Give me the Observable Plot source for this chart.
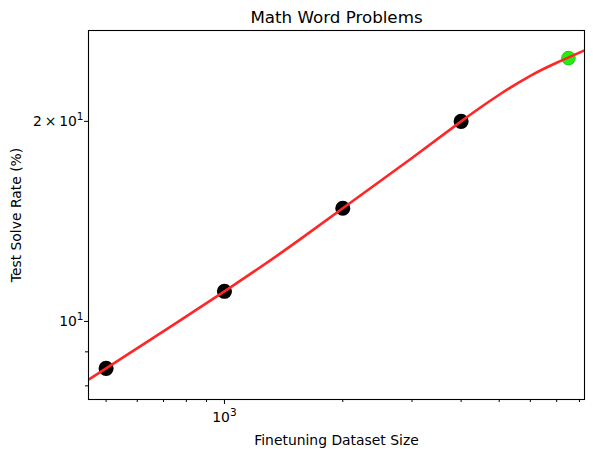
<!DOCTYPE html>
<html>
<head>
<meta charset="utf-8">
<script src="https://cdn.jsdelivr.net/npm/d3@7"></script>
<script src="https://cdn.jsdelivr.net/npm/@observablehq/plot@0.6"></script>
<style>
  html, body { margin: 0; padding: 0; background: #fff; }
  svg { font-family: "DejaVu Sans", sans-serif; }
</style>
</head>
<body>
<div id="chart"></div>
<script>
// Observed points (black)
const sizes = [500, 1000, 2000, 4000];
const rates = [8.5, 11.1, 14.8, 20.0];
// Highlighted point (green)
const highlightSize = [7500];
const highlightRate = [24.9];
// Fitted curve (red)
const fitSizes = [451, 500, 1000, 1500, 2000, 3000, 4000, 5000, 6000, 7000, 8240];
const fitRates = [8.18, 8.5, 11.1, 13.08, 14.8, 17.62, 20.0, 21.93, 23.42, 24.5, 25.57];
// Ticks
const xMajorTicks = [1000];
const xMajorLabels = [["10", "3"]];
const xMinorTicks = [500, 600, 700, 800, 900, 2000, 3000, 4000, 5000, 6000, 7000, 8000];
const yLabeledTicks = [10, 20];
const yLabeledLabels = [["10", "1"], ["2\u2009×\u200910", "1"]];
const yMinorTicks = [8, 9];

const points = sizes.map((s, i) => ({size: s, rate: rates[i]}));
const hl = highlightSize.map((s, i) => ({size: s, rate: highlightRate[i]}));
const fit = fitSizes.map((s, i) => ({size: s, rate: fitRates[i]}));

const supFormat = (ticks, labels) => (d) => {
  const l = labels[ticks.indexOf(d)];
  return l[0] + "^" + l[1];
};

const chart = Plot.plot({
  width: 593,
  height: 457,
  marginLeft: 88,
  marginRight: 9,
  marginTop: 30,
  marginBottom: 58,
  style: {fontFamily: "DejaVu Sans", fontSize: "13.9px", color: "#000", background: "#fff"},
  x: {type: "log", domain: [451, 8240]},
  y: {type: "log", domain: [7.63, 27.4]},
  marks: [
    Plot.axisX(xMajorTicks, {
      tickSize: 5, tickPadding: 8,
      tickFormat: supFormat(xMajorTicks, xMajorLabels),
      fontSize: 13.9, label: null
    }),
    Plot.axisX(xMinorTicks, {tickSize: 3, tickFormat: () => "", label: null}),
    Plot.axisY(yLabeledTicks, {
      tickSize: 4, tickPadding: 1,
      tickFormat: supFormat(yLabeledTicks, yLabeledLabels),
      fontSize: 13.9, label: null
    }),
    Plot.axisY(yMinorTicks, {tickSize: 3, tickFormat: () => "", label: null}),
    Plot.dot(points, {x: "size", y: "rate", r: 6.8, fill: "black", stroke: "black"}),
    Plot.dot(hl, {x: "size", y: "rate", r: 6.8, fill: "#22ee11", stroke: "#22cc11", strokeWidth: 1}),
    Plot.line(fit, {x: "size", y: "rate", stroke: "#ff2626", strokeWidth: 2.6, curve: "natural", clip: true}),
    Plot.frame({stroke: "black", strokeWidth: 1.1}),
    Plot.text(["Math Word Problems"], {frameAnchor: "top", dy: -13, lineAnchor: "middle", fontSize: 16.7, fill: "black"}),
    Plot.text(["Finetuning Dataset Size"], {frameAnchor: "bottom", dy: 41, lineAnchor: "middle", fontSize: 13.9, fill: "black"}),
    Plot.text(["Test Solve Rate (%)"], {frameAnchor: "left", dx: -72, rotate: -90, lineAnchor: "middle", textAnchor: "middle", fontSize: 13.9, fill: "black"})
  ]
});

// Render "base^exp" tick labels with a raised superscript.
chart.querySelectorAll("text").forEach((t) => {
  const s = t.textContent;
  if (s.includes("^")) {
    const [base, exp] = s.split("^");
    while (t.firstChild) t.removeChild(t.firstChild);
    const ns = "http://www.w3.org/2000/svg";
    const b = document.createElementNS(ns, "tspan");
    b.textContent = base;
    const e = document.createElementNS(ns, "tspan");
    e.textContent = exp;
    e.setAttribute("font-size", "10.5px");
    e.setAttribute("dy", "-6");
    t.appendChild(b);
    t.appendChild(e);
  }
});
document.getElementById("chart").appendChild(chart);
</script>
</body>
</html>
